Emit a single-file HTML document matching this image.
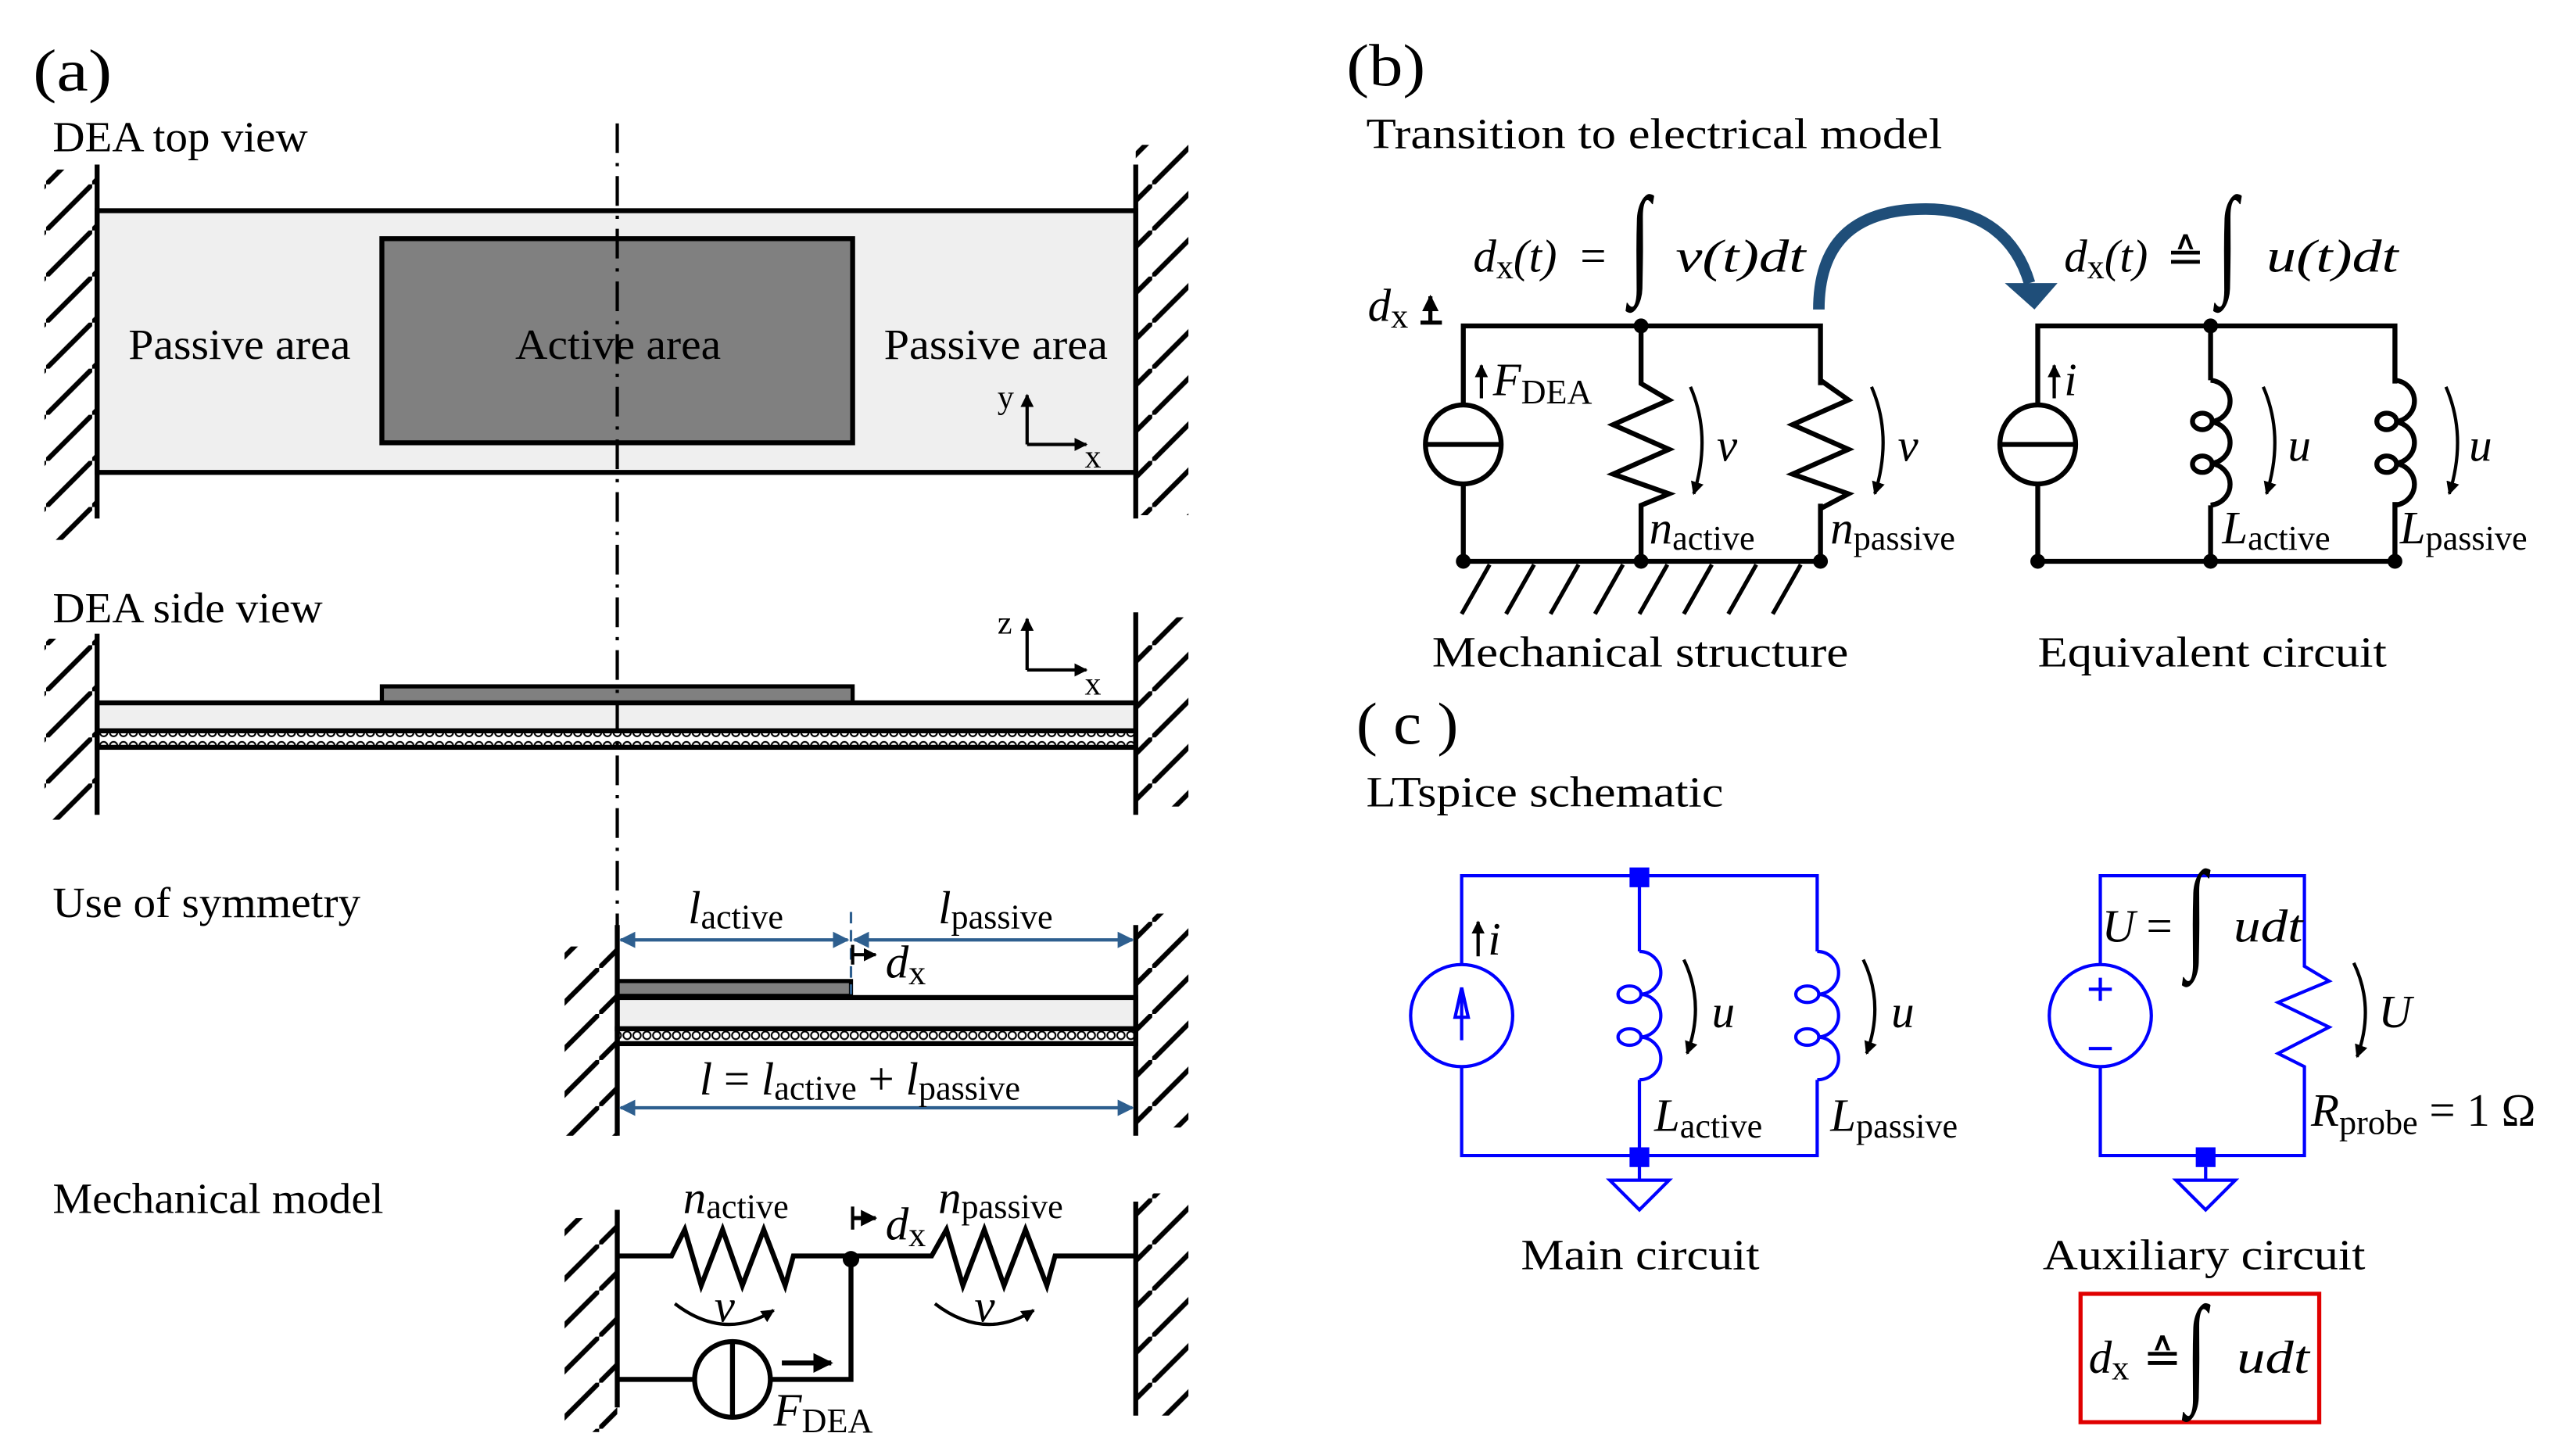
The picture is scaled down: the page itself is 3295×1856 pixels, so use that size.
<!DOCTYPE html>
<html><head><meta charset="utf-8"><style>
html,body{margin:0;padding:0;background:#fff;}
svg{display:block;}
text{font-family:"Liberation Serif",serif;fill:#000;}
.t{font-size:26px;}
.m{font-size:28px;font-style:italic;}
.s{font-size:21px;font-style:normal;}
.bl{stroke:#0000ff;stroke-width:2;fill:none;}
.k{stroke:#000;stroke-width:3;fill:none;}
</style></head><body>
<svg width="3295" height="1856" viewBox="0 0 1565 881.5" preserveAspectRatio="none" xmlns="http://www.w3.org/2000/svg">
<defs>
<pattern id="h" patternUnits="userSpaceOnUse" width="28" height="28">
<line x1="-4" y1="32" x2="32" y2="-4" stroke="#000" stroke-width="3"/>
</pattern>
<pattern id="d" patternUnits="userSpaceOnUse" width="6" height="8" y="1">
<rect width="6" height="8" fill="#fff"/>
<circle cx="3" cy="4" r="2.3" fill="#fff" stroke="#000" stroke-width="1"/>
</pattern>
<marker id="ab" viewBox="0 0 10 10" refX="9" refY="5" markerWidth="5" markerHeight="5" orient="auto-start-reverse"><path d="M0,0 L10,5 L0,10 z" fill="#2e5f8f"/></marker>
<marker id="ak" viewBox="0 0 10 10" refX="9" refY="5" markerWidth="4" markerHeight="4" orient="auto"><path d="M0,0 L10,5 L0,10 z" fill="#000"/></marker>
</defs>
<rect width="1565" height="881.5" fill="#fff"/>

<!-- (a) -->
<text x="20" y="55" style="font-size:36px" textLength="48" lengthAdjust="spacingAndGlyphs">(a)</text>
<text x="32" y="92" class="t" textLength="155" lengthAdjust="spacingAndGlyphs">DEA top view</text>
<rect x="27" y="103" width="32" height="225" fill="url(#h)"/>
<rect x="690" y="88" width="32" height="225" fill="url(#h)"/>
<rect x="59" y="128" width="631" height="159" fill="#efefef" stroke="#000" stroke-width="3"/>
<rect x="232" y="145" width="286" height="124" fill="#808080" stroke="#000" stroke-width="3"/>
<line x1="59" y1="100" x2="59" y2="315" class="k"/>
<line x1="690" y1="100" x2="690" y2="315" class="k"/>
<text x="78" y="218" class="t" textLength="135" lengthAdjust="spacingAndGlyphs">Passive area</text>
<text x="313" y="218" class="t" textLength="125" lengthAdjust="spacingAndGlyphs">Active area</text>
<text x="537" y="218" class="t" textLength="136" lengthAdjust="spacingAndGlyphs">Passive area</text>
<line x1="624" y1="270" x2="624" y2="240" stroke="#000" stroke-width="2" marker-end="url(#ak)"/>
<line x1="624" y1="270" x2="660" y2="270" stroke="#000" stroke-width="2" marker-end="url(#ak)"/>
<text x="606" y="248" style="font-size:20px">y</text>
<text x="659" y="284" style="font-size:20px">x</text>

<text x="32" y="378" class="t" textLength="164" lengthAdjust="spacingAndGlyphs">DEA side view</text>
<rect x="27" y="388" width="32" height="110" fill="url(#h)"/>
<rect x="690" y="375" width="32" height="115" fill="url(#h)"/>
<rect x="232" y="417" width="286" height="10" fill="#808080" stroke="#000" stroke-width="2.5"/>
<rect x="59" y="427" width="631" height="17" fill="#efefef" stroke="#000" stroke-width="3"/>
<rect x="59" y="444" width="631" height="10" fill="url(#d)" stroke="#000" stroke-width="3"/>
<line x1="59" y1="385" x2="59" y2="495" class="k"/>
<line x1="690" y1="372" x2="690" y2="495" class="k"/>
<line x1="624" y1="407" x2="624" y2="376" stroke="#000" stroke-width="2" marker-end="url(#ak)"/>
<line x1="624" y1="407" x2="660" y2="407" stroke="#000" stroke-width="2" marker-end="url(#ak)"/>
<text x="606" y="385" style="font-size:20px">z</text>
<text x="659" y="422" style="font-size:20px">x</text>

<line x1="375" y1="75" x2="375" y2="568" stroke="#000" stroke-width="2" stroke-dasharray="18,6,2,6"/>

<text x="32" y="557" class="t" textLength="187" lengthAdjust="spacingAndGlyphs">Use of symmetry</text>
<rect x="343" y="575" width="32" height="115" fill="url(#h)"/>
<rect x="690" y="555" width="32" height="130" fill="url(#h)"/>
<rect x="375" y="596" width="142" height="9" fill="#808080" stroke="#000" stroke-width="2.5"/>
<rect x="375" y="606" width="315" height="19" fill="#efefef" stroke="#000" stroke-width="3"/>
<rect x="375" y="625" width="315" height="9" fill="url(#d)" stroke="#000" stroke-width="3"/>
<line x1="375" y1="562" x2="375" y2="690" class="k"/>
<line x1="690" y1="562" x2="690" y2="690" class="k"/>
<line x1="517" y1="554" x2="517" y2="604" stroke="#2e5f8f" stroke-width="1.5" stroke-dasharray="7,4"/>
<line x1="377" y1="571" x2="515" y2="571" stroke="#2e5f8f" stroke-width="2" marker-start="url(#ab)" marker-end="url(#ab)"/>
<line x1="519" y1="571" x2="688" y2="571" stroke="#2e5f8f" stroke-width="2" marker-start="url(#ab)" marker-end="url(#ab)"/>
<line x1="377" y1="673" x2="688" y2="673" stroke="#2e5f8f" stroke-width="2" marker-start="url(#ab)" marker-end="url(#ab)"/>
<text x="418" y="561" class="m">l<tspan class="s" dy="3">active</tspan></text>
<text x="570" y="561" class="m">l<tspan class="s" dy="3">passive</tspan></text>
<line x1="518" y1="574" x2="518" y2="586" stroke="#000" stroke-width="2"/>
<line x1="518" y1="580" x2="532" y2="580" stroke="#000" stroke-width="2" marker-end="url(#ak)"/>
<text x="538" y="594" class="m">d<tspan class="s" dy="4">x</tspan></text>
<text x="425" y="665" class="m">l <tspan style="font-style:normal">=</tspan> l<tspan class="s" dy="3">active</tspan><tspan dy="-3" style="font-style:normal"> + </tspan>l<tspan class="s" dy="3">passive</tspan></text>

<text x="32" y="737" class="t" textLength="201" lengthAdjust="spacingAndGlyphs">Mechanical model</text>
<rect x="343" y="740" width="32" height="130" fill="url(#h)"/>
<rect x="690" y="725" width="32" height="135" fill="url(#h)"/>
<line x1="375" y1="735" x2="375" y2="855" class="k"/>
<line x1="690" y1="730" x2="690" y2="860" class="k"/>
<path d="M375,763 H408 L416,747 L426,781 L439,747 L451,781 L464,747 L477,781 L482,763 H566 L575,747 L585,781 L598,747 L610,781 L623,747 L636,781 L641,763 H690" class="k"/>
<path d="M375,838 H422 M468,838 H517 V763" class="k"/>
<circle cx="445" cy="838" r="23" class="k"/>
<line x1="445" y1="815" x2="445" y2="861" class="k"/>
<circle cx="517" cy="765" r="5" fill="#000"/>
<line x1="475" y1="828" x2="505" y2="828" stroke="#000" stroke-width="3" marker-end="url(#ak)"/>
<text x="470" y="866" class="m">F<tspan class="s" dy="4">DEA</tspan></text>
<text x="415" y="737" class="m">n<tspan class="s" dy="3">active</tspan></text>
<text x="570" y="737" class="m">n<tspan class="s" dy="3">passive</tspan></text>
<line x1="518" y1="733" x2="518" y2="747" stroke="#000" stroke-width="2"/>
<line x1="518" y1="740" x2="532" y2="740" stroke="#000" stroke-width="2.5" marker-end="url(#ak)"/>
<text x="538" y="753" class="m">d<tspan class="s" dy="4">x</tspan></text>
<path d="M410,792 Q440,815 470,796" stroke="#000" stroke-width="2" fill="none" marker-end="url(#ak)"/>
<text x="434" y="803" class="m">v</text>
<path d="M568,792 Q598,815 628,796" stroke="#000" stroke-width="2" fill="none" marker-end="url(#ak)"/>
<text x="592" y="803" class="m">v</text>

<!-- (b) -->
<text x="818" y="52" style="font-size:36px" textLength="48" lengthAdjust="spacingAndGlyphs">(b)</text>
<text x="830" y="90" class="t" textLength="350" lengthAdjust="spacingAndGlyphs">Transition to electrical model</text>
<text x="895" y="165" class="m">d<tspan class="s" dy="4">x</tspan><tspan dy="-4">(t)</tspan></text>
<text x="960" y="165" style="font-size:28px">=</text>
<text x="990" y="174" style="font-size:46px;font-style:italic" transform="translate(0,-108) scale(1,1.6)">∫</text>
<text x="1018" y="165" class="m" textLength="79" lengthAdjust="spacingAndGlyphs">v(t)dt</text>
<text x="1254" y="165" class="m">d<tspan class="s" dy="4">x</tspan><tspan dy="-4">(t)</tspan></text>
<text x="1316" y="165" style="font-size:28px">≙</text>
<text x="1347" y="174" style="font-size:46px;font-style:italic" transform="translate(0,-108) scale(1,1.6)">∫</text>
<text x="1377" y="165" class="m" textLength="80" lengthAdjust="spacingAndGlyphs">u(t)dt</text>
<path d="M1105,188 C1105,140 1135,127 1170,127 C1205,127 1225,145 1233,172" stroke="#1f4e79" stroke-width="7" fill="none"/>
<path d="M1218,172 L1250,172 L1236,188 z" fill="#1f4e79"/>

<text x="831" y="195" class="m">d<tspan class="s" dy="4">x</tspan></text>
<line x1="869" y1="196" x2="869" y2="180" stroke="#000" stroke-width="2.5" marker-end="url(#ak)"/>
<line x1="863" y1="196" x2="876" y2="196" stroke="#000" stroke-width="2.5"/>
<path d="M889,341 V198 H1106 V341 H889" class="k"/>
<path d="M997,198 V233 L1014,243 L980,258 L1014,273 L980,288 L1014,300 L997,307 V341" class="k"/>
<rect x="1104" y="234" width="4" height="72" fill="#fff"/>
<path d="M1106,231 L1123,243 L1089,258 L1123,273 L1089,288 L1123,300 L1106,309" class="k"/>
<ellipse cx="889" cy="270" rx="23" ry="24" fill="#fff" stroke="#000" stroke-width="3"/>
<line x1="866" y1="270" x2="912" y2="270" class="k"/>
<circle cx="997" cy="198" r="4.5" fill="#000"/>
<circle cx="889" cy="341" r="4.5" fill="#000"/>
<circle cx="997" cy="341" r="4.5" fill="#000"/>
<circle cx="1106" cy="341" r="4.5" fill="#000"/>
<g stroke="#000" stroke-width="2.5">
<line x1="905" y1="343" x2="888" y2="373"/><line x1="932" y1="343" x2="915" y2="373"/><line x1="959" y1="343" x2="942" y2="373"/><line x1="986" y1="343" x2="969" y2="373"/><line x1="1013" y1="343" x2="996" y2="373"/><line x1="1040" y1="343" x2="1023" y2="373"/><line x1="1067" y1="343" x2="1050" y2="373"/><line x1="1094" y1="343" x2="1077" y2="373"/>
</g>
<line x1="900" y1="242" x2="900" y2="222" stroke="#000" stroke-width="2" marker-end="url(#ak)"/>
<text x="907" y="240" class="m">F<tspan class="s" dy="5">DEA</tspan></text>
<path d="M1027,235 Q1040,265 1029,300" stroke="#000" stroke-width="2" fill="none" marker-end="url(#ak)"/>
<text x="1043" y="280" class="m">v</text>
<path d="M1137,235 Q1150,265 1139,300" stroke="#000" stroke-width="2" fill="none" marker-end="url(#ak)"/>
<text x="1153" y="280" class="m">v</text>
<text x="1002" y="330" class="m">n<tspan class="s" dy="4">active</tspan></text>
<text x="1112" y="330" class="m">n<tspan class="s" dy="4">passive</tspan></text>
<text x="870" y="405" class="t" textLength="253" lengthAdjust="spacingAndGlyphs">Mechanical structure</text>

<path d="M1238,341 V198 H1455 V341 H1238" class="k"/>
<path d="M1343,198 V231 M1343,307 V341" class="k"/>
<path d="M1343,231 a13,12.7 0 0 1 0,25.3 a13,12.7 0 0 1 0,25.3 a13,12.7 0 0 1 0,25.3" class="k" stroke-width="2.5"/>
<ellipse cx="1338" cy="256" rx="6" ry="5" class="k" stroke-width="2.5"/>
<ellipse cx="1338" cy="282" rx="6" ry="5" class="k" stroke-width="2.5"/>
<rect x="1452" y="233" width="6" height="72" fill="#fff"/>
<path d="M1455,231 a13,12.7 0 0 1 0,25.3 a13,12.7 0 0 1 0,25.3 a13,12.7 0 0 1 0,25.3" class="k" stroke-width="2.5"/>
<ellipse cx="1450" cy="256" rx="6" ry="5" class="k" stroke-width="2.5"/>
<ellipse cx="1450" cy="282" rx="6" ry="5" class="k" stroke-width="2.5"/>
<ellipse cx="1238" cy="270" rx="23" ry="24" fill="#fff" stroke="#000" stroke-width="3"/>
<line x1="1215" y1="270" x2="1261" y2="270" class="k"/>
<circle cx="1343" cy="198" r="4.5" fill="#000"/>
<circle cx="1238" cy="341" r="4.5" fill="#000"/>
<circle cx="1343" cy="341" r="4.5" fill="#000"/>
<circle cx="1455" cy="341" r="4.5" fill="#000"/>
<line x1="1248" y1="242" x2="1248" y2="222" stroke="#000" stroke-width="2" marker-end="url(#ak)"/>
<text x="1254" y="240" class="m">i</text>
<path d="M1375,235 Q1388,265 1377,300" stroke="#000" stroke-width="2" fill="none" marker-end="url(#ak)"/>
<text x="1390" y="280" class="m">u</text>
<path d="M1486,235 Q1499,265 1488,300" stroke="#000" stroke-width="2" fill="none" marker-end="url(#ak)"/>
<text x="1500" y="280" class="m">u</text>
<text x="1350" y="330" class="m">L<tspan class="s" dy="4">active</tspan></text>
<text x="1458" y="330" class="m">L<tspan class="s" dy="4">passive</tspan></text>
<text x="1238" y="405" class="t" textLength="212" lengthAdjust="spacingAndGlyphs">Equivalent circuit</text>

<!-- (c) -->
<text x="824" y="452" style="font-size:36px" textLength="62" lengthAdjust="spacingAndGlyphs">( c )</text>
<text x="830" y="490" class="t" textLength="217" lengthAdjust="spacingAndGlyphs">LTspice schematic</text>
<path d="M888,586 V532 H1104 V578 M1104,656 V702 H888 V648" class="bl"/>
<path d="M996,532 V578 M996,656 V702 V717" class="bl"/>
<path d="M996,578 a13,13 0 0 1 0,26 a13,13 0 0 1 0,26 a13,13 0 0 1 0,26" class="bl"/>
<ellipse cx="990" cy="604" rx="7" ry="5" class="bl"/>
<ellipse cx="990" cy="630" rx="7" ry="5" class="bl"/>
<path d="M1104,578 a13,13 0 0 1 0,26 a13,13 0 0 1 0,26 a13,13 0 0 1 0,26" class="bl"/>
<ellipse cx="1098" cy="604" rx="7" ry="5" class="bl"/>
<ellipse cx="1098" cy="630" rx="7" ry="5" class="bl"/>
<ellipse cx="888" cy="617" rx="31" ry="31" class="bl"/>
<line x1="888" y1="632" x2="888" y2="603" class="bl"/>
<path d="M884,618 L888,600 L892,618 z" class="bl"/>
<rect x="990" y="527" width="12" height="12" fill="#0000ff"/>
<rect x="990" y="697" width="12" height="12" fill="#0000ff"/>
<path d="M978,717 H1014 L996,735 z" class="bl"/>
<line x1="898" y1="581" x2="898" y2="560" stroke="#000" stroke-width="2" marker-end="url(#ak)"/>
<text x="904" y="580" class="m">i</text>
<path d="M1023,583 Q1036,610 1025,640" stroke="#000" stroke-width="2" fill="none" marker-end="url(#ak)"/>
<text x="1040" y="624" class="m">u</text>
<path d="M1132,583 Q1145,610 1134,640" stroke="#000" stroke-width="2" fill="none" marker-end="url(#ak)"/>
<text x="1149" y="624" class="m">u</text>
<text x="1005" y="687" class="m">L<tspan class="s" dy="4">active</tspan></text>
<text x="1112" y="687" class="m">L<tspan class="s" dy="4">passive</tspan></text>
<text x="924" y="771" class="t" textLength="145" lengthAdjust="spacingAndGlyphs">Main circuit</text>

<path d="M1276,586 V532 H1400 V587 L1415,596 L1384,609 L1415,624 L1384,640 L1400,648 V702 H1276 V648" class="bl"/>
<ellipse cx="1276" cy="617" rx="31" ry="31" class="bl"/>
<path d="M1269,601 H1283 M1276,594 V608 M1269,637 H1283" class="bl" stroke-width="2.5"/>
<rect x="1334" y="697" width="12" height="12" fill="#0000ff"/>
<path d="M1340,709 V717 M1322,717 H1358 L1340,735 z" class="bl"/>
<text x="1277" y="572" class="m">U</text>
<text x="1304" y="572" style="font-size:28px">=</text>
<text x="1328" y="580" style="font-size:46px;font-style:italic" transform="translate(0,-348) scale(1,1.6)">∫</text>
<text x="1357" y="572" class="m" textLength="42" lengthAdjust="spacingAndGlyphs">udt</text>
<path d="M1430,585 Q1443,612 1432,642" stroke="#000" stroke-width="2" fill="none" marker-end="url(#ak)"/>
<text x="1445" y="624" class="m">U</text>
<text x="1404" y="684" class="m">R<tspan class="s" dy="5">probe</tspan><tspan dy="-5" style="font-style:normal;font-size:28px"> = 1 Ω</tspan></text>
<text x="1241" y="771" class="t" textLength="196" lengthAdjust="spacingAndGlyphs">Auxiliary circuit</text>
<rect x="1264" y="786" width="145" height="78" fill="none" stroke="#e00000" stroke-width="2.5"/>
<text x="1269" y="834" class="m">d<tspan class="s" dy="4">x</tspan></text>
<text x="1302" y="834" style="font-size:28px">≙</text>
<text x="1328" y="842" style="font-size:46px;font-style:italic" transform="translate(0,-503) scale(1,1.6)">∫</text>
<text x="1359" y="834" class="m" textLength="44" lengthAdjust="spacingAndGlyphs">udt</text>
</svg>
</body></html>
